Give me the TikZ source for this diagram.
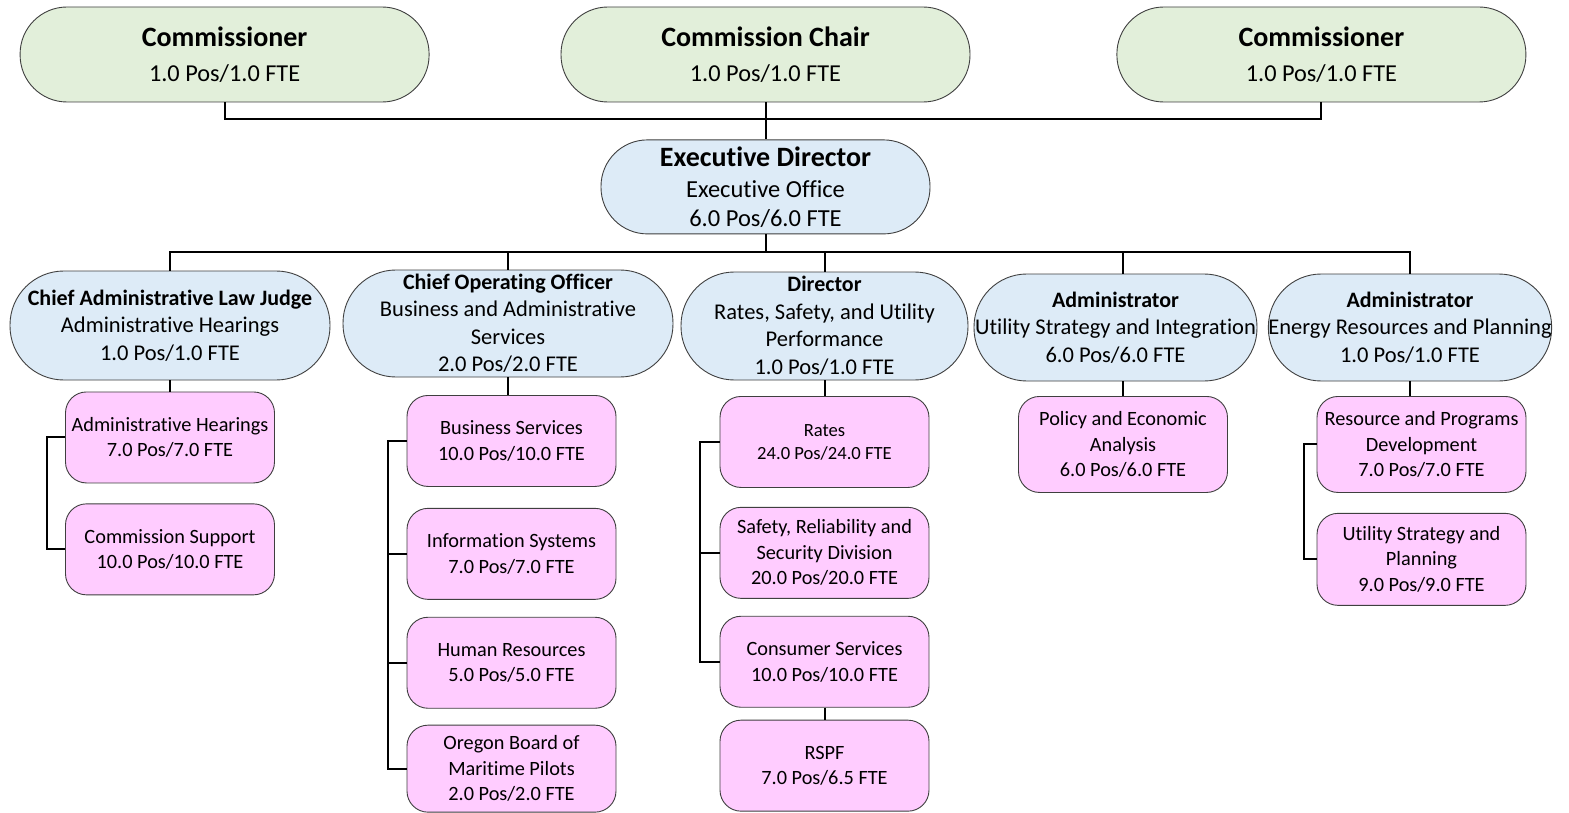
\documentclass[tikz,border=0pt]{standalone}
\usepackage{fontspec}
\setmainfont{Carlito}[Ligatures=NoCommon]
\usetikzlibrary{positioning,calc}

\definecolor{boardcol}{HTML}{E2EFDA}
\definecolor{officecol}{HTML}{DDEBF7}
\definecolor{unitcol}{HTML}{FFCCFF}
\definecolor{edgecol}{HTML}{3F3F3F}

\tikzstyle{link} = [black, line width=2pt]

\newcommand{\bigtitle}[1]{{\fontsize{28}{29}\selectfont\bfseries #1}}
\newcommand{\smalltitle}[1]{{\fontsize{22}{27.5}\selectfont\bfseries #1}}

\tikzset{
  basic box/.style = {
    shape = rectangle,
    draw = edgecol,
    line width = 0.9pt,
    align = center,
    inner sep = 0pt,
    },
  pill box/.style n args = {3}{
    basic box,
    fill = #1,
    minimum width = #2,
    minimum height = #3,
    rounded corners = #3/2-0.6pt,
    },
  board/.style = {
    pill box = {boardcol}{409pt}{95pt},
    font = \fontsize{24.3}{29}\selectfont},
  chief/.style 2 args = {
    pill box = {officecol}{#1}{#2},
    font = \fontsize{24.5}{28.5}\selectfont},
  office/.style 2 args = {
    pill box = {officecol}{#1}{#2},
    font = \fontsize{22.5}{27.5}\selectfont},
  unit/.style = {
    basic box,
    fill = unitcol,
    minimum width = 209pt,
    minimum height = #1,
    rounded corners = 21pt,
    font = \fontsize{20.3}{25.5}\selectfont},
  unit/.default = 91pt,
}

\begin{document}
\begin{tikzpicture}[x=1pt, y=1pt]
    \useasboundingbox (0,0) rectangle (1569,-813);

    % commission
    \node [board] (chair) at (765.5,-54.5) {\bigtitle{Commission Chair}\\[6pt]1.0 Pos/1.0 FTE};
    \node [board, left=131pt of chair] (comleft) {\bigtitle{Commissioner}\\[6pt]1.0 Pos/1.0 FTE};
    \node [board, right=146pt of chair] (comright) {\bigtitle{Commissioner}\\[6pt]1.0 Pos/1.0 FTE};

    \node [chief={329pt}{94pt}, below=37pt of chair] (exec) {\bigtitle{Executive Director}\\[3pt]Executive Office\\6.0 Pos/6.0 FTE};

    % divisions
    \node [office={320pt}{109pt}] (calj) at (170,-325.5) {\smalltitle{Chief Administrative Law Judge}\\Administrative Hearings\\1.0 Pos/1.0 FTE};
    \node [office={330pt}{107pt}] (coo) at (508,-323.5) {\smalltitle{Chief Operating Officer}\\Business and Administrative\\Services\\2.0 Pos/2.0 FTE};
    \node [office={287pt}{108pt}] (dir) at (824.5,-326) {\smalltitle{Director}\\Rates, Safety, and Utility\\Performance\\1.0 Pos/1.0 FTE};
    \node [office={283pt}{107pt}] (usi) at (1115.5,-327.5) {\smalltitle{Administrator}\\Utility Strategy and Integration\\6.0 Pos/6.0 FTE};
    \node [office={282pt}{107pt}] (erp) at (1410,-327.5) {\smalltitle{Administrator}\\Energy Resources and Planning\\1.0 Pos/1.0 FTE};

    % sections
    \node [unit, anchor=north] (hear) at (170,-391.5) {Administrative Hearings\\7.0 Pos/7.0 FTE};
    \node [unit, below=20pt of hear] (csup) {Commission Support\\10.0 Pos/10.0 FTE};

    \node [unit, anchor=north] (bus) at (511.5,-395) {Business Services\\10.0 Pos/10.0 FTE};
    \node [unit, below=21pt of bus] (info) {Information Systems\\7.0 Pos/7.0 FTE};
    \node [unit, below=17pt of info] (hr) {Human Resources\\5.0 Pos/5.0 FTE};
    \node [unit=87pt, below=16pt of hr] (pilots) {Oregon Board of\\Maritime Pilots\\2.0 Pos/2.0 FTE};

    \node [unit, anchor=north, font=\fontsize{18.6}{23}\selectfont] (rates) at (824.5,-396) {Rates\\24.0 Pos/24.0 FTE};
    \node [unit, below=19pt of rates] (safety) {Safety, Reliability and\\Security Division\\20.0 Pos/20.0 FTE};
    \node [unit, below=17pt of safety] (consumer) {Consumer Services\\10.0 Pos/10.0 FTE};
    \node [unit, below=12pt of consumer] (rspf) {RSPF\\7.0 Pos/6.5 FTE};

    \node [unit=96pt, anchor=north] (policy) at (1123,-396) {Policy and Economic\\Analysis\\6.0 Pos/6.0 FTE};

    \node [unit=96pt, anchor=north] (resprog) at (1421.5,-396) {Resource and Programs\\Development\\7.0 Pos/7.0 FTE};
    \node [unit=92pt, below=20pt of resprog] (usp) {Utility Strategy and\\Planning\\9.0 Pos/9.0 FTE};

    % Paths
    \coordinate (topbus) at (0,-119);
    \coordinate (midbus) at (0,-252.5);

    \draw[link] (comleft.south) -- (comleft.south |- topbus) -- (comright.south |- topbus) -- (comright.south);
    \draw[link] (chair.south) -- (exec.north);

    \draw[link] (calj.north) -- (calj.north |- midbus) -- (erp.north |- midbus) -- (erp.north);
    \draw[link] (exec.south) -- (exec.south |- midbus);
    \draw[link] (coo.north) -- (coo.north |- midbus);
    \draw[link] (dir.north) -- (dir.north |- midbus);
    \draw[link] (policy.north |- usi.north) -- (policy.north |- midbus);

    \draw[link] (calj.south) -- (hear.north);
    \draw[link] (hear.west) -- ++(-18,0) |- (csup.west);

    \draw[link] (coo.south) -- (coo.south |- bus.north);
    \draw[link] (bus.west) -- ++(-19,0) |- (pilots.west);
    \draw[link] (info.west) -- ++(-19,0);
    \draw[link] (hr.west) -- ++(-19,0);

    \draw[link] (dir.south) -- (rates.north);
    \draw[link] (rates.west) -- ++(-20,0) |- (consumer.west);
    \draw[link] (safety.west) -- ++(-20,0);
    \draw[link] (consumer.south) -- (rspf.north);

    \draw[link] (policy.north) -- (policy.north |- usi.south);

    \draw[link] (erp.south) -- (erp.south |- resprog.north);
    \draw[link] (resprog.west) -- ++(-13,0) |- (usp.west);
\end{tikzpicture}
\end{document}
